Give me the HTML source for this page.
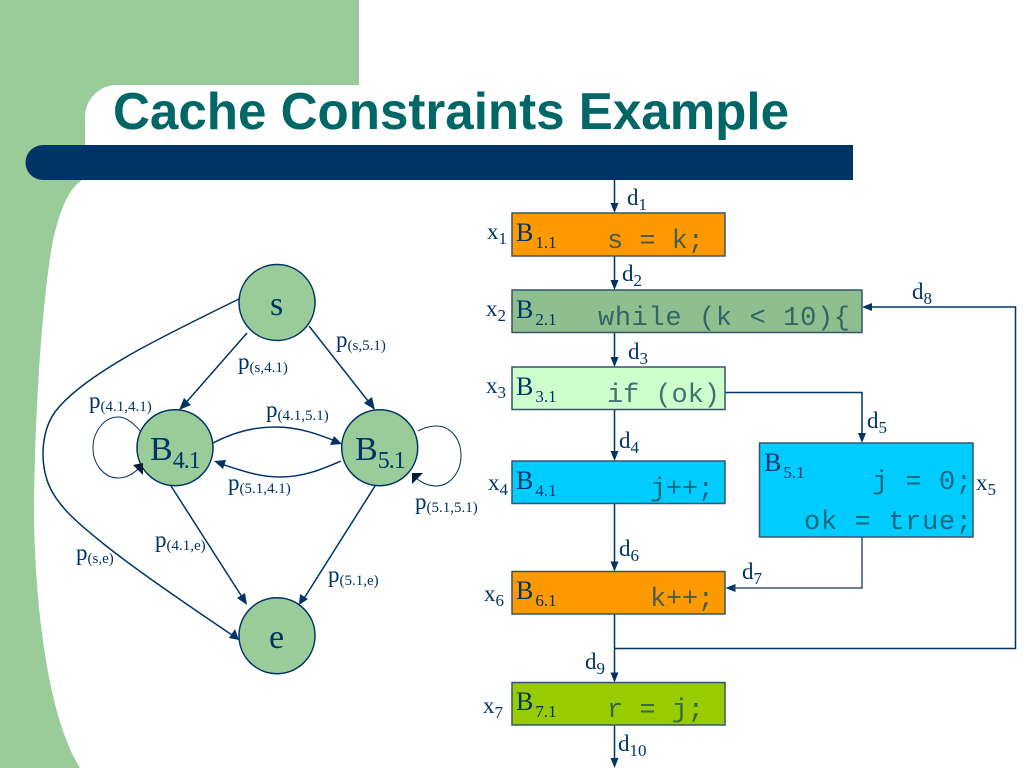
<!DOCTYPE html>
<html><head><meta charset="utf-8"><style>
html,body{margin:0;padding:0;background:#fff;width:1024px;height:768px;overflow:hidden}
svg{display:block}
text{font-family:"Liberation Serif",serif;fill:#003366}
.m{font-family:"Liberation Mono",monospace;font-size:27px;fill:#1c4f5c;fill-opacity:.8}
.l{font-size:23px}
.ln{fill:none;stroke:#003366;stroke-width:1.5}
.a{fill:#003366}
</style></head><body>
<svg width="1024" height="768" viewBox="0 0 1024 768" xmlns="http://www.w3.org/2000/svg">
<rect width="1024" height="768" fill="#fff"/>
<path d="M0 0H359V85H117A32 32 0 0 0 85 117V180H82C68 190 60 210 53 240C42 300 34 420 34 520C36 620 50 720 80 768H0Z" fill="#99CC99"/>
<path d="M43 145H853V180H43A17.5 17.5 0 0 1 43 145Z" fill="#003366"/>
<text x="113" y="129" textLength="676" lengthAdjust="spacingAndGlyphs" style="font-family:'Liberation Sans',sans-serif;font-weight:bold;font-size:52px;fill:#006666">Cache Constraints Example</text>

<!-- left graph edges -->
<path class="ln" d="M239 299C200 318 160 338 133 353C100 372 70 392 55 412C42 430 40 458 47 480C55 505 80 525 105 545C130 565 180 600 232 635"/>
<polygon class="a" points="239,640 229,638 235,629"/>
<path class="ln" d="M247 333L183 406"/>
<path class="ln" d="M309 326L372 406"/>
<path class="ln" d="M213 443C230 434 250 427 275 427C300 427 320 435 338 442"/>
<path class="ln" d="M341 461C325 468 305 477 280 477C258 477 240 470 218 463"/>
<path d="M141 432C133 422 125 417 118 417C104 417 93 432 93 448C93 464 104 478 118 478C126 478 134 474 141 466" fill="none" stroke="#003366" stroke-width="1"/>
<path d="M418 431C424 428 429 426 436 426C450 426 461 438 461 456C461 472 450 486 436 486C428 486 420 482 415 477" fill="none" stroke="#003366" stroke-width="1"/>
<path class="ln" d="M171 486L244 600"/>
<path class="ln" d="M375 486L303 600"/>

<g fill="#99CC99" stroke="#003366" stroke-width="1.5">
<circle cx="277" cy="302.5" r="38"/>
<circle cx="175" cy="447.7" r="38"/>
<circle cx="379.7" cy="447.7" r="38"/>
<circle cx="277" cy="635.7" r="38"/>
</g>
<polygon class="a" points="179,410 184,398 191,405"/>
<polygon class="a" points="375,410 364,403 372,397"/>
<polygon class="a" points="342,444 330,445 334,436"/>
<polygon class="a" points="214,461 226,460 223,469"/>
<polygon class="a" points="247,605 237,598 245,593"/>
<polygon class="a" points="299,605 300,594 308,599"/>
<polygon points="143,475 143,463 133,465" fill="#001a3a"/>
<polygon points="412,473 423,473 412,484" fill="#001a3a"/>

<text x="270" y="315" font-size="34">s</text>
<text x="269" y="648" font-size="34">e</text>
<text x="150" y="460" font-size="34">B<tspan font-size="24" dy="8" letter-spacing="-1">4.1</tspan></text>
<text x="355" y="460" font-size="34">B<tspan font-size="24" dy="8" letter-spacing="-1">5.1</tspan></text>

<g class="l">
<text x="336" y="347" class="l">p<tspan font-size="15" dy="3">(s,5.1)</tspan></text>
<text x="238" y="369" class="l">p<tspan font-size="15" dy="3">(s,4.1)</tspan></text>
<text x="89" y="408" class="l">p<tspan font-size="15" dy="3">(4.1,4.1)</tspan></text>
<text x="266" y="417" class="l">p<tspan font-size="15" dy="3">(4.1,5.1)</tspan></text>
<text x="228" y="490" class="l">p<tspan font-size="15" dy="3">(5.1,4.1)</tspan></text>
<text x="415" y="509" class="l">p<tspan font-size="15" dy="3">(5.1,5.1)</tspan></text>
<text x="155" y="547" class="l">p<tspan font-size="15" dy="3">(4.1,e)</tspan></text>
<text x="76" y="560" class="l">p<tspan font-size="15" dy="3">(s,e)</tspan></text>
<text x="328" y="582" class="l">p<tspan font-size="15" dy="3">(5.1,e)</tspan></text>
</g>

<!-- right connectors -->
<path class="ln" d="M614.5 180V207M614.5 256V284M614.5 332V361M614.5 409V455M614.5 503V566M614.5 614V677M614.5 725V758"/>
<g class="a">
<polygon points="614.5,213 610.5,203 618.5,203"/>
<polygon points="614.5,290 610.5,280 618.5,280"/>
<polygon points="614.5,367 610.5,357 618.5,357"/>
<polygon points="614.5,461 610.5,451 618.5,451"/>
<polygon points="614.5,571.5 610.5,561.5 618.5,561.5"/>
<polygon points="614.5,682.5 610.5,672.5 618.5,672.5"/>
<polygon points="614.5,768 610.5,758 618.5,758"/>
<polygon points="862,307 872,303 872,311"/>
<polygon points="862,443 858,433 866,433"/>
<polygon points="725.5,588 735.5,584 735.5,592"/>
</g>
<path class="ln" d="M725 392.5H862V435"/>
<path class="ln" d="M862 537V588H733" style="stroke:#33557a"/>
<path class="ln" d="M614.5 648.5H1015.5V307H870"/>

<!-- boxes -->
<g stroke="#33566e" stroke-width="1.5">
<rect x="512" y="213" width="213" height="43" fill="#FF9900"/>
<rect x="512" y="290" width="350" height="42.5" fill="#8FBF8F"/>
<rect x="512" y="367" width="213" height="42.5" fill="#CCFFCC"/>
<rect x="512" y="461" width="213" height="42.5" fill="#00CCFF"/>
<rect x="512" y="571.5" width="213" height="42.5" fill="#FF9900"/>
<rect x="512" y="682.5" width="213" height="42.5" fill="#99CC00"/>
<rect x="759.5" y="443" width="213.5" height="94" fill="#00CCFF"/>
</g>

<text x="516" y="241" font-size="26">B<tspan font-size="17" dy="7" dx="2">1.1</tspan></text>
<text x="516" y="318" font-size="26">B<tspan font-size="17" dy="7" dx="2">2.1</tspan></text>
<text x="516" y="395" font-size="26">B<tspan font-size="17" dy="7" dx="2">3.1</tspan></text>
<text x="516" y="489" font-size="26">B<tspan font-size="17" dy="7" dx="2">4.1</tspan></text>
<text x="516" y="599" font-size="26">B<tspan font-size="17" dy="7" dx="2">6.1</tspan></text>
<text x="516" y="710" font-size="26">B<tspan font-size="17" dy="7" dx="2">7.1</tspan></text>
<text x="764" y="471" font-size="26">B<tspan font-size="17" dy="7" dx="2">5.1</tspan></text>

<text class="m" x="607" y="248" textLength="97">s = k;</text>
<text class="m" x="598" y="325" textLength="252">while (k &lt; 10){</text>
<text class="m" x="607" y="402" textLength="113">if (ok)</text>
<text class="m" x="650" y="496" textLength="64">j++;</text>
<text class="m" x="650" y="606" textLength="64">k++;</text>
<text class="m" x="607" y="717" textLength="97">r = j;</text>
<text class="m" x="872" y="489" textLength="100">j = 0;</text>
<text class="m" x="804" y="529" textLength="168">ok = true;</text>

<!-- x labels -->
<text class="l" x="487" y="239">x<tspan font-size="17" dy="5">1</tspan></text>
<text class="l" x="486" y="316">x<tspan font-size="17" dy="5">2</tspan></text>
<text class="l" x="486" y="393">x<tspan font-size="17" dy="5">3</tspan></text>
<text class="l" x="488" y="490">x<tspan font-size="17" dy="5">4</tspan></text>
<text class="l" x="976" y="490">x<tspan font-size="17" dy="5">5</tspan></text>
<text class="l" x="484" y="601">x<tspan font-size="17" dy="5">6</tspan></text>
<text class="l" x="483" y="713">x<tspan font-size="17" dy="5">7</tspan></text>

<!-- d labels -->
<text class="l" x="627" y="205">d<tspan font-size="17" dy="5">1</tspan></text>
<text class="l" x="622" y="281">d<tspan font-size="17" dy="5">2</tspan></text>
<text class="l" x="628" y="359">d<tspan font-size="17" dy="5">3</tspan></text>
<text class="l" x="619" y="448">d<tspan font-size="17" dy="5">4</tspan></text>
<text class="l" x="867" y="428">d<tspan font-size="17" dy="5">5</tspan></text>
<text class="l" x="619" y="556">d<tspan font-size="17" dy="5">6</tspan></text>
<text class="l" x="742" y="579">d<tspan font-size="17" dy="5">7</tspan></text>
<text class="l" x="912" y="299">d<tspan font-size="17" dy="5">8</tspan></text>
<text class="l" x="585" y="669">d<tspan font-size="17" dy="5">9</tspan></text>
<text class="l" x="618" y="751">d<tspan font-size="17" dy="5">10</tspan></text>
</svg>
</body></html>
